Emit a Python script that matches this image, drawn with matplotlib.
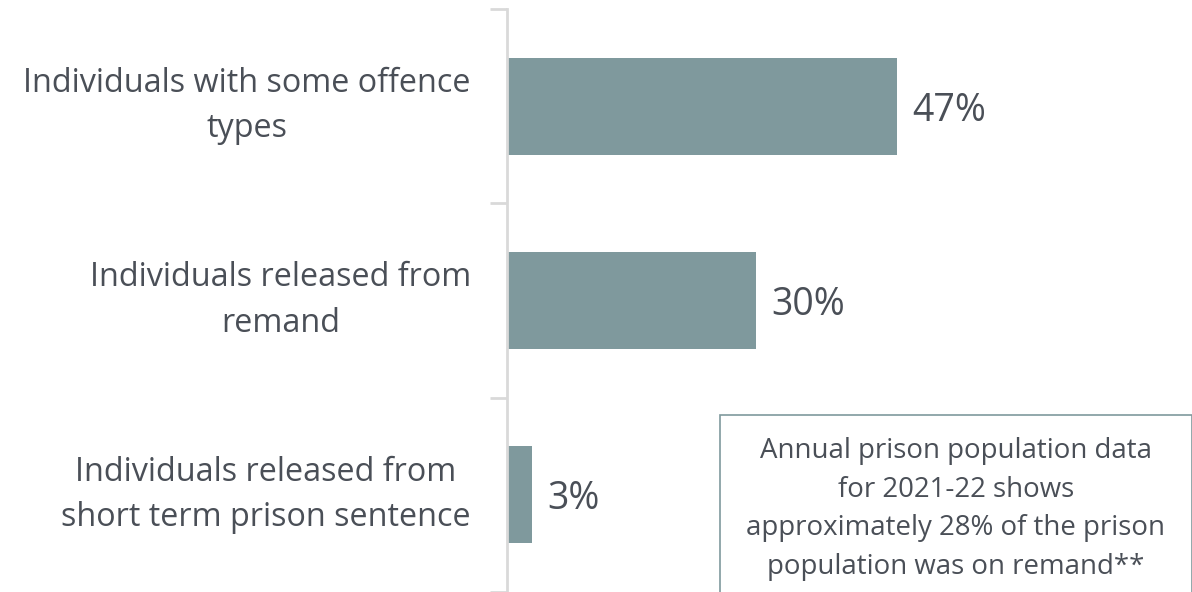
import matplotlib.pyplot as plt
from matplotlib.patches import Rectangle

plt.rcParams['font.family'] = ['Open Sans', 'DejaVu Sans']

categories = ['Individuals with some offence\ntypes',
              'Individuals released from\nremand',
              'Individuals released from\nshort term prison sentence']
values = [47, 30, 3]
note = ('Annual prison population data\nfor 2021-22 shows\n'
        'approximately 28% of the prison\npopulation was on remand**')

bar_color = '#7f999d'
text_color = '#4a4f57'
grid_grey = '#d9d9d9'

fig = plt.figure(figsize=(11.92, 5.92), dpi=100)
ax = fig.add_axes([507 / 1192, 0, 685 / 1192, 583 / 592])

pos = list(range(len(values)))
ax.barh(pos, values, height=0.5, color=bar_color)
ax.set_xlim(0, 82.5)
ax.set_ylim(len(values) - 0.5, -0.5)

for p, v in zip(pos, values):
    ax.text(v + 1.8, p, f'{v}%', va='center_baseline', ha='left',
            fontsize=27, color=text_color)

# tick marks sit between categories, labels sit on the bar centres
ax.set_yticks([p - 0.5 for p in pos] + [len(values) - 0.5])
ax.set_yticklabels([])
ax.set_yticks(pos, minor=True)
ax.set_yticklabels(categories, minor=True, fontsize=23.3, color=text_color,
                   multialignment='center', linespacing=1.5)
for lbl in ax.get_yticklabels(minor=True):
    lbl.set_va('center')
ax.tick_params(axis='y', which='major', length=12, width=2, color=grid_grey)
ax.tick_params(axis='y', which='minor', length=0, pad=26)
ax.set_xticks([])

for side in ['top', 'right', 'bottom']:
    ax.spines[side].set_visible(False)
ax.spines['left'].set_color(grid_grey)
ax.spines['left'].set_linewidth(2)

fig.patches.append(Rectangle((720 / 1192, -0.02), 472 / 1192, 0.02 + 177 / 592,
                             transform=fig.transFigure, fill=False,
                             edgecolor=bar_color, linewidth=1.2))
fig.text(956 / 1192, 83 / 592, note, ha='center', va='center',
         fontsize=19.9, color=text_color, linespacing=1.5)

fig.savefig('out.png', dpi=100)
